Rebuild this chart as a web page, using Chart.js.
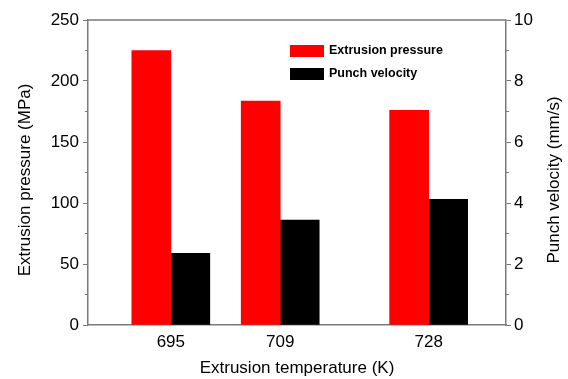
<!DOCTYPE html>
<html>
<head>
<meta charset="utf-8">
<title>Extrusion pressure and punch velocity</title>
<script src="https://cdn.jsdelivr.net/npm/chart.js@4/dist/chart.umd.min.js"></script>
<style>
  html, body { margin: 0; padding: 0; background: #fff; }
  #wrap { width: 568px; height: 379px; }
</style>
</head>
<body>
<div id="wrap"><canvas id="extrusionChart"></canvas></div>
<script>
// --- DATA ---
const temperatures = [695, 709, 728];          // K
const pressureMPa = [225, 183.5, 176];         // extrusion pressure
const punchVelocity = [2.35, 3.44, 4.12];      // mm/s
const pressureTicks = [0, 50, 100, 150, 200, 250];
const velocityTicks = [0, 2, 4, 6, 8, 10];
const leftTitle = 'Extrusion pressure (MPa)';
const rightTitle = 'Punch velocity (mm/s)';

const axisGrey = '#7a7a7a';
const fontFamily = 'Liberation Sans, Arial, sans-serif';
const tickFont = { family: fontFamily, size: 17 };
const titleFont = { family: fontFamily, size: 17 };

function points(values) {
    return temperatures.map((t, i) => ({ x: t, y: values[i] }));
}

// frame top line, minor ticks, both y titles (reading upward) and the in-plot legend
const framePlugin = {
    id: 'frame',
    afterDraw(chart) {
        const ctx = chart.ctx;
        const area = chart.chartArea;
        ctx.save();
        ctx.strokeStyle = axisGrey;
        ctx.lineWidth = 1.5;
        ctx.beginPath();
        ctx.moveTo(area.left, area.top);
        ctx.lineTo(area.right, area.top);
        ctx.stroke();

        // minor ticks halfway between major ones
        const yl = chart.scales.y, yr = chart.scales.y1;
        ctx.lineWidth = 1;
        for (let i = 0; i < pressureTicks.length - 1; i++) {
            const py = yl.getPixelForValue((pressureTicks[i] + pressureTicks[i + 1]) / 2);
            ctx.beginPath();
            ctx.moveTo(area.left - 3, py);
            ctx.lineTo(area.left, py);
            ctx.stroke();
        }
        for (let i = 0; i < velocityTicks.length - 1; i++) {
            const py = yr.getPixelForValue((velocityTicks[i] + velocityTicks[i + 1]) / 2);
            ctx.beginPath();
            ctx.moveTo(area.right, py);
            ctx.lineTo(area.right + 3, py);
            ctx.stroke();
        }

        // vertical axis titles
        ctx.fillStyle = '#000';
        ctx.font = titleFont.size + 'px ' + fontFamily;
        ctx.textAlign = 'center';
        ctx.textBaseline = 'middle';
        [[25, leftTitle], [554, rightTitle]].forEach(([x, text]) => {
            ctx.save();
            ctx.translate(x, 180);
            ctx.rotate(-Math.PI / 2);
            ctx.fillText(text, 0, 0);
            ctx.restore();
        });

        // legend
        ctx.font = 'bold 12.5px ' + fontFamily;
        ctx.textAlign = 'left';
        chart.data.datasets.forEach((ds, i) => {
            const y = 51 + i * 23;
            ctx.fillStyle = ds.backgroundColor;
            ctx.fillRect(290, y - 6, 34, 12);
            ctx.fillStyle = '#000';
            ctx.fillText(ds.label, 329, y);
        });
        ctx.restore();
    }
};

new Chart(document.getElementById('extrusionChart'), {
    type: 'bar',
    data: {
        datasets: [{
            label: 'Extrusion pressure',
            data: points(pressureMPa),
            backgroundColor: '#ff0000',
            yAxisID: 'y'
        }, {
            label: 'Punch velocity',
            data: points(punchVelocity),
            backgroundColor: '#000000',
            yAxisID: 'y1'
        }]
    },
    options: {
        responsive: true,
        maintainAspectRatio: false,
        animation: false,
        barThickness: 39,
        layout: { padding: { top: 20, left: 0, right: 0, bottom: 0 } },
        plugins: {
            legend: { display: false },
            tooltip: { enabled: false }
        },
        scales: {
            x: {
                type: 'linear',
                min: 684.4,
                max: 737.9,
                offset: false,
                afterBuildTicks: scale => { scale.ticks = temperatures.map(v => ({ value: v })); },
                afterFit: scale => { scale.height = 54; },
                grid: { display: false, tickLength: 0 },
                border: { color: axisGrey, width: 1.5 },
                ticks: { font: tickFont, color: '#000', padding: 7, maxRotation: 0 },
                title: {
                    display: true,
                    text: 'Extrusion temperature (K)',
                    font: titleFont,
                    color: '#000',
                    padding: 0
                }
            },
            y: {
                position: 'left',
                min: 0,
                max: 250,
                afterBuildTicks: scale => { scale.ticks = pressureTicks.map(v => ({ value: v })); },
                afterFit: scale => { scale.width = 88; },
                grid: { drawOnChartArea: false, tickLength: 5, color: axisGrey, tickWidth: 1 },
                border: { color: axisGrey, width: 1.5 },
                ticks: { font: tickFont, color: '#000', padding: 4 }
            },
            y1: {
                position: 'right',
                min: 0,
                max: 10,
                afterBuildTicks: scale => { scale.ticks = velocityTicks.map(v => ({ value: v })); },
                afterFit: scale => { scale.width = 62; },
                grid: { drawOnChartArea: false, tickLength: 5, color: axisGrey, tickWidth: 1 },
                border: { color: axisGrey, width: 1.5 },
                ticks: { font: tickFont, color: '#000', padding: 3 }
            }
        }
    },
    plugins: [framePlugin]
});
</script>
</body>
</html>
